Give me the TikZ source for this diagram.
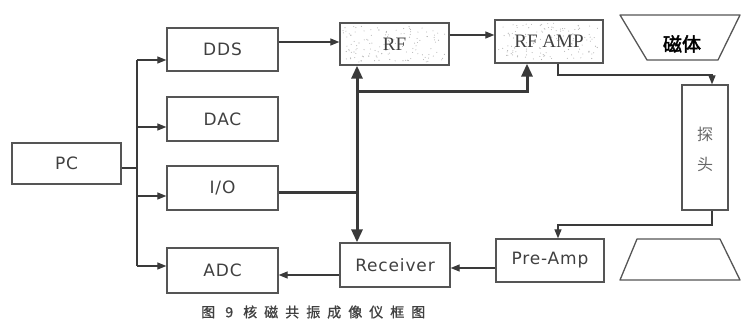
\documentclass[tikz,border=0pt]{standalone}
\usepackage{fontspec}
\setmainfont{DejaVu Sans}
\newfontfamily\lblfont[LetterSpace=5]{DejaVu Sans}
\newfontfamily\rffont{Liberation Serif}
\newfontfamily\cjkfont{Noto Sans CJK SC}
\newfontfamily\cjkbold[FakeBold=2.5]{Noto Sans CJK SC}
\newfontfamily\capfont[LetterSpace=50,FakeBold=1]{Noto Sans CJK SC}
\usetikzlibrary{arrows.meta,calc}
\definecolor{ln}{HTML}{3A3A3A}
\definecolor{bx}{HTML}{555555}
\definecolor{tx}{HTML}{404040}
\begin{document}
\begin{tikzpicture}[x=1pt,y=-1pt,
  blk/.style={draw=bx,line width=1.3pt,inner sep=0pt,text=tx,font=\lblfont\fontsize{17}{18}\selectfont},
  rfblk/.style={blk,font=\rffont\fontsize{19}{19}\selectfont},
  ln/.style={draw=ln,line width=1.2pt},
  arr/.style={ln,-{Triangle[length=9pt,width=7pt]}},
  tarr/.style={draw=ln,line width=3pt,-{Triangle[length=13pt,width=11pt]}},
  tline/.style={draw=ln,line width=3pt}]
\useasboundingbox (0,0) rectangle (741,324);

% speckle texture of RF and RF AMP
\pgfmathsetseed{7}
\foreach \i in {1,...,130}{
  \pgfmathsetmacro\px{343+103*rnd}
  \pgfmathsetmacro\py{26+36*rnd}
  \fill[gray!60] (\px,\py) circle (0.55pt);
}
\foreach \i in {1,...,130}{
  \pgfmathsetmacro\px{498+102*rnd}
  \pgfmathsetmacro\py{23+37*rnd}
  \fill[gray!60] (\px,\py) circle (0.55pt);
}

% blocks
\node[blk,minimum width=109pt,minimum height=41pt] (pc) at (66.5,163.5) {PC};
\node[blk,minimum width=111pt,minimum height=43pt] (dds) at (222.5,49.5) {DDS};
\node[blk,minimum width=111pt,minimum height=44pt] (dac) at (222.5,119) {DAC};
\node[blk,minimum width=111pt,minimum height=44pt] (io) at (222.5,188) {I/O};
\node[blk,minimum width=111pt,minimum height=45pt] (adc) at (222.5,270.5) {ADC};
\node[rfblk,minimum width=109pt,minimum height=42pt] (rf) at (394.5,44) {RF};
\node[rfblk,minimum width=108pt,minimum height=43pt] (rfamp) at (549,41.5) {RF AMP};
\node[blk,minimum width=46pt,minimum height=125pt] (probe) at (705,147.5) {};
\node[text=gray!80!black,font=\cjkfont\fontsize{16}{16}\selectfont] (tan) at (705,134) {探};
\node[text=gray!80!black,font=\cjkfont\fontsize{16}{16}\selectfont] (tou) at (705,164) {头};
\node[blk,minimum width=110pt,minimum height=44pt] (rec) at (395,265) {Receiver};
\node[blk,minimum width=108pt,minimum height=43pt] (pre) at (550,260.5) {Pre-Amp};

% magnet trapezoids
\coordinate (m1) at (620,15); \coordinate (m2) at (740,15);
\coordinate (m3) at (718,60); \coordinate (m4) at (647,60);
\draw[bx,line width=1.3pt,line join=round] (m1) -- (m2) -- (m3) -- (m4) -- cycle;
\node[text=black,font=\cjkbold\fontsize{19}{19}\selectfont] (mag) at (682,44) {磁体};
\coordinate (n1) at (637,239); \coordinate (n2) at (720,239);
\coordinate (n3) at (740,280); \coordinate (n4) at (620,280);
\draw[bx,line width=1.3pt,line join=round] (n1) -- (n2) -- (n3) -- (n4) -- cycle;

% PC bus
\coordinate (bj) at (137,168);
\draw[ln] ([yshift=-4.5pt]pc.east) -- (bj);
\draw[ln] (137,60) -- (137,266);
\draw[arr] (137,60) -- (dds.west |- 0,60);
\draw[arr] (137,127) -- (dac.west |- 0,127);
\draw[arr] (137,196) -- (io.west |- 0,196);
\draw[arr] (137,266) -- (adc.west |- 0,266);

% signal chain
\draw[arr] (dds.east |- 0,42) -- (rf.west |- 0,42);
\draw[arr] (rf.east |- 0,35) -- (rfamp.west |- 0,35);
\draw[arr] (rfamp.south -| 558,0) -- (558,75) -- (712,75) -- (probe.north -| 712,0);
\draw[arr] (probe.south -| 712,0) -- (712,225) -- (558,225) -- (pre.north -| 558,0);
\draw[arr] (pre.west |- 0,268) -- (rec.east |- 0,268);
\draw[arr] (rec.west |- 0,275) -- (adc.east |- 0,275);

% thick control lines
\coordinate (tj) at (357,192);
\draw[tline] ([yshift=-4pt]io.east) -- (tj);
\draw[tarr] (tj) -- (rf.south -| tj);
\draw[tarr] (tj) -- (rec.north -| tj);
\draw[tarr] (357,91) -- (527,91) -- (rfamp.south -| 527,0);

% caption
\node[anchor=west,text=tx,font=\capfont\fontsize{14}{14}\selectfont,inner sep=0pt] (cap) at (201,312) {图 9 核磁共振成像仪框图};
\end{tikzpicture}
\end{document}
